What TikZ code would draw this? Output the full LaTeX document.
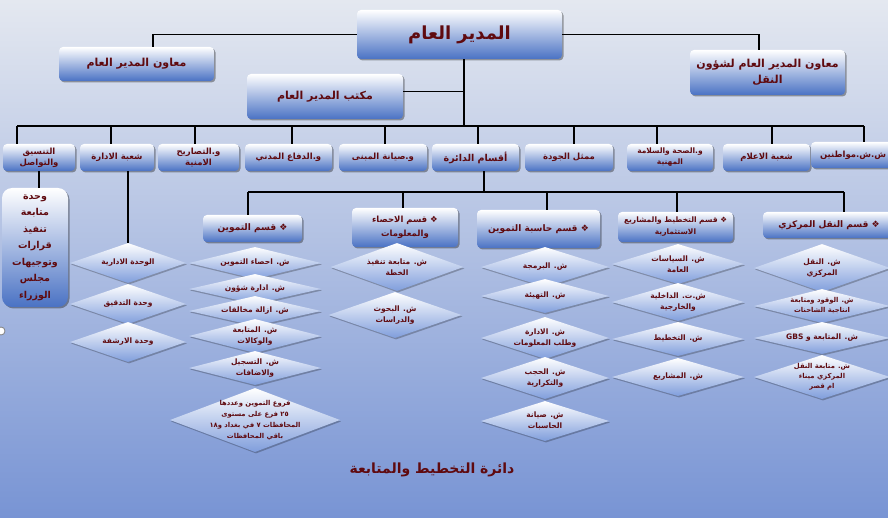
\documentclass[tikz,border=0pt]{standalone}
\usepackage{fontspec}
\usetikzlibrary{shapes.geometric,shadows}
\newfontfamily\arfont[Script=Arabic]{DejaVu Sans}
\TeXXeTstate=1
\newcommand\RL[1]{\beginR#1\endR}
\definecolor{txt}{RGB}{95,10,15}
\definecolor{boxb}{RGB}{74,114,196}
\definecolor{diab}{RGB}{128,158,220}
\definecolor{bgtop}{RGB}{228,232,240}
\definecolor{bgbot}{RGB}{120,148,212}
\begin{document}
\begin{tikzpicture}[x=1pt,y=-1pt,
  box/.style={rounded corners=4pt, top color=white, bottom color=boxb, text=txt,
    align=center, inner sep=1pt,
    drop shadow={shadow xshift=1.5pt, shadow yshift=-1.5pt, opacity=.35, fill=black},
    font=\arfont\bfseries\fontsize{8.5}{11}\selectfont},
  dia/.style={diamond, inner sep=0pt, top color=white, bottom color=diab,
    drop shadow={shadow xshift=1pt, shadow yshift=-1.5pt, opacity=.25, fill=black}},
  dtext/.style={text=txt, align=center, inner sep=0pt,
    font=\arfont\bfseries\fontsize{7.5}{11.5}\selectfont},
  conn/.style={line width=1.7pt, black}]
\useasboundingbox (0,0) rectangle (888,518);
\fill[top color=bgtop, bottom color=bgbot] (0,0) rectangle (888,518);

% coordinates of the bus lines
\coordinate (bus1) at (464,126);
\coordinate (busL) at (17,126);
\coordinate (busR) at (864,126);
\coordinate (bus2) at (484,192);
\coordinate (bus2L) at (248,192);
\coordinate (bus2R) at (844,192);

% top level
\node[box, minimum width=205pt, minimum height=49pt, font=\arfont\bfseries\fontsize{18}{22}\selectfont] (gm) at (459.5,34.5) {\RL{المدير العام}};
\node[box, minimum width=155pt, minimum height=34pt, font=\arfont\bfseries\fontsize{11}{14}\selectfont] (dep1) at (136.5,64) {\RL{معاون المدير العام}};
\node[box, minimum width=155pt, minimum height=45pt, font=\arfont\bfseries\fontsize{11}{16}\selectfont] (dep2) at (767.5,72.5) {\RL{معاون المدير العام لشؤون}\\\RL{النقل}};
\node[box, minimum width=156pt, minimum height=45pt, font=\arfont\bfseries\fontsize{11}{14}\selectfont] (office) at (325,96.5) {\RL{مكتب المدير العام}};

% row of units
\node[box, minimum width=72pt, minimum height=27pt] (c1) at (39,157.5) {\RL{التنسيق}\\\RL{والتواصل}};
\node[box, minimum width=74pt, minimum height=27pt] (c2) at (117,157.5) {\RL{شعبة الادارة}};
\node[box, minimum width=81pt, minimum height=27pt] (c3) at (198.5,157.5) {\RL{و.التصاريح}\\\RL{الامنية}};
\node[box, minimum width=87pt, minimum height=27pt] (c4) at (288.5,157.5) {\RL{و.الدفاع المدني}};
\node[box, minimum width=88pt, minimum height=27pt] (c5) at (383,157.5) {\RL{و.صيانة المبنى}};
\node[box, minimum width=87pt, minimum height=27pt, font=\arfont\bfseries\fontsize{9.5}{12}\selectfont] (c6) at (475.5,157.5) {\RL{أقسام الدائرة}};
\node[box, minimum width=88pt, minimum height=27pt] (c7) at (569,157.5) {\RL{ممثل الجودة}};
\node[box, minimum width=86pt, minimum height=27pt, font=\arfont\bfseries\fontsize{7.5}{11}\selectfont] (c8) at (670,157.5) {\RL{و.الصحة والسلامة}\\\RL{المهنية}};
\node[box, minimum width=87pt, minimum height=27pt] (c9) at (766.5,157.5) {\RL{شعبة الاعلام}};
\node[box, minimum width=84pt, minimum height=26pt] (c10) at (853,155) {\RL{ش.ش.مواطنين}};

% left tall box
\node[box, rounded corners=10pt, minimum width=66pt, minimum height=119pt, font=\arfont\bfseries\fontsize{9.5}{16.5}\selectfont] (lb) at (35,247.5)
  {\RL{وحدة}\\\RL{متابعة}\\\RL{تنفيذ}\\\RL{قرارات}\\\RL{وتوجيهات}\\\RL{مجلس}\\\RL{الوزراء}};

% column heads
\node[box, minimum width=99pt, minimum height=27pt, font=\arfont\bfseries\fontsize{9}{12}\selectfont] (h1) at (252.5,228.5) {\RL{❖ قسم التموين}};
\node[box, minimum width=106pt, minimum height=39pt, font=\arfont\bfseries\fontsize{8.5}{14}\selectfont] (h2) at (405,227.5) {\RL{❖ قسم الاحصاء}\\\RL{والمعلومات}};
\node[box, minimum width=123pt, minimum height=38pt, font=\arfont\bfseries\fontsize{9}{12}\selectfont] (h3) at (538.5,229) {\RL{❖ قسم حاسبة التموين}};
\node[box, minimum width=115pt, minimum height=30pt, font=\arfont\bfseries\fontsize{7.5}{12}\selectfont] (h4) at (675.5,227) {\RL{❖ قسم التخطيط والمشاريع}\\\RL{الاستثمارية}};
\node[box, minimum width=132pt, minimum height=26pt, font=\arfont\bfseries\fontsize{9}{12}\selectfont] (h5) at (829,225) {\RL{❖ قسم النقل المركزي}};

% connectors
\draw[conn] (gm.west) -| ([xshift=16.5pt]dep1.north);
\draw[conn] (gm.east) -| ([xshift=-8.5pt]dep2.north);
\draw[conn] ([xshift=4.5pt]gm.south) -- (bus1);
\draw[conn] ([yshift=5pt]office.east) -- ([yshift=5pt]office.east -| bus1);
\draw[conn] (busL) -- (busR);
\foreach \n/\s in {c1/-22,c2/-6,c3/-3.5,c4/3.5,c5/2,c6/2.5,c7/5,c8/-13,c9/5.5,c10/11}
  \draw[conn] ([xshift=\s pt]\n.north) -- ([xshift=\s pt]\n.north |- bus1);
\draw[conn] ([xshift=8.5pt]c6.south) -- (bus2);
\draw[conn] (bus2L) -- (bus2R);
\foreach \n/\s in {h1/-4.5,h2/-2,h3/8.5,h4/1.5,h5/15}
  \draw[conn] ([xshift=\s pt]\n.north) -- ([xshift=\s pt]\n.north |- bus2);
\draw[conn] (c1.south) -- (c1.south |- lb.north);

% administration column
\node[dia, minimum width=116pt, minimum height=40pt] (d1) at (128,263) {};
\node[dtext] (d1t) at (d1) {\RL{الوحدة الادارية}};
\node[dia, minimum width=116pt, minimum height=40pt] (d2) at (128,304) {};
\node[dtext] (d2t) at (d2) {\RL{وحدة التدقيق}};
\node[dia, minimum width=116pt, minimum height=40pt] (d3) at (128,342) {};
\node[dtext] (d3t) at (d3) {\RL{وحدة الارشفة}};
\draw[conn] (c2.south -| d1.north) -- (d1.north);

% supply column
\node[dia, minimum width=132pt, minimum height=32pt] (t1) at (255,263) {};
\node[dtext] (t1t) at (t1) {\RL{ش. احصاء التموين}};
\node[dia, minimum width=132pt, minimum height=30pt] (t2) at (255,289) {};
\node[dtext] (t2t) at (t2) {\RL{ش. ادارة شؤون}};
\node[dia, minimum width=132pt, minimum height=30pt] (t3) at (255,311) {};
\node[dtext] (t3t) at (t3) {\RL{ش. ازالة مخالفات}};
\node[dia, minimum width=132pt, minimum height=34pt] (t4) at (255,336) {};
\node[dtext] (t4t) at (t4) {\RL{ش. المتابعة}\\\RL{والوكالات}};
\node[dia, minimum width=132pt, minimum height=34pt] (t5) at (255,368) {};
\node[dtext] (t5t) at (t5) {\RL{ش. التسجيل}\\\RL{والاضافات}};
\node[dia, minimum width=170pt, minimum height=64pt] (t6) at (255,420) {};
\node[dtext, font=\arfont\bfseries\fontsize{6.8}{11}\selectfont] (t6t) at (t6) {\RL{فروع التموين وعددها}\\\RL{\beginL ٢٥\endL{} فرع على مستوى}\\\RL{المحافظات \beginL ٧\endL{} في بغداد و\beginL ١٨\endL}\\\RL{باقي المحافظات}};

% statistics column
\node[dia, minimum width=133pt, minimum height=48pt] (s1) at (397,267) {};
\node[dtext] (s1t) at (s1) {\RL{ش. متابعة تنفيذ}\\\RL{الخطة}};
\node[dia, minimum width=133pt, minimum height=46pt] (s2) at (395,315) {};
\node[dtext] (s2t) at (s2) {\RL{ش. البحوث}\\\RL{والدراسات}};

% computer column
\node[dia, minimum width=128pt, minimum height=40pt] (p1) at (545,267) {};
\node[dtext] (p1t) at (p1) {\RL{ش. البرمجة}};
\node[dia, minimum width=128pt, minimum height=34pt] (p2) at (545,296) {};
\node[dtext] (p2t) at (p2) {\RL{ش. التهيئة}};
\node[dia, minimum width=128pt, minimum height=42pt] (p3) at (545,338) {};
\node[dtext] (p3t) at (p3) {\RL{ش. الادارة}\\\RL{وطلب المعلومات}};
\node[dia, minimum width=128pt, minimum height=42pt] (p4) at (545,378) {};
\node[dtext] (p4t) at (p4) {\RL{ش. الحجب}\\\RL{والتكرارية}};
\node[dia, minimum width=128pt, minimum height=40pt] (p5) at (545,421) {};
\node[dtext] (p5t) at (p5) {\RL{ش. صيانة}\\\RL{الحاسبات}};

% planning column
\node[dia, minimum width=132pt, minimum height=40pt] (q1) at (678,264) {};
\node[dtext] (q1t) at (q1) {\RL{ش. السياسات}\\\RL{العامة}};
\node[dia, minimum width=132pt, minimum height=38pt] (q2) at (678,302) {};
\node[dtext] (q2t) at (q2) {\RL{ش.ت. الداخلية}\\\RL{والخارجية}};
\node[dia, minimum width=132pt, minimum height=34pt] (q3) at (678,339) {};
\node[dtext] (q3t) at (q3) {\RL{ش. التخطيط}};
\node[dia, minimum width=132pt, minimum height=38pt] (q4) at (678,377) {};
\node[dtext] (q4t) at (q4) {\RL{ش. المشاريع}};

% transport column
\node[dia, minimum width=136pt, minimum height=48pt] (n1) at (822,268) {};
\node[dtext] (n1t) at (n1) {\RL{ش. النقل}\\\RL{المركزي}};
\node[dia, minimum width=136pt, minimum height=34pt] (n2) at (822,306) {};
\node[dtext, font=\arfont\bfseries\fontsize{6.8}{10}\selectfont] (n2t) at (n2) {\RL{ش. الوقود ومتابعة}\\\RL{انتاجية الشاحنات}};
\node[dia, minimum width=136pt, minimum height=32pt] (n3) at (822,338) {};
\node[dtext] (n3t) at (n3) {\RL{ش. المتابعة و \beginL GBS\endL}};
\node[dia, minimum width=136pt, minimum height=44pt] (n4) at (822,377) {};
\node[dtext, font=\arfont\bfseries\fontsize{6.8}{10}\selectfont] (n4t) at (n4) {\RL{ش. متابعة النقل}\\\RL{المركزي ميناء}\\\RL{ام قصر}};

% title and handle
\node[text=txt, font=\arfont\bfseries\fontsize{14}{16}\selectfont] (title) at (432,470) {\RL{دائرة التخطيط والمتابعة}};
\node[circle, draw=gray, fill=white, line width=0.8pt, minimum size=8pt, inner sep=0pt] (handle) at (1,331) {};
\end{tikzpicture}
\end{document}
